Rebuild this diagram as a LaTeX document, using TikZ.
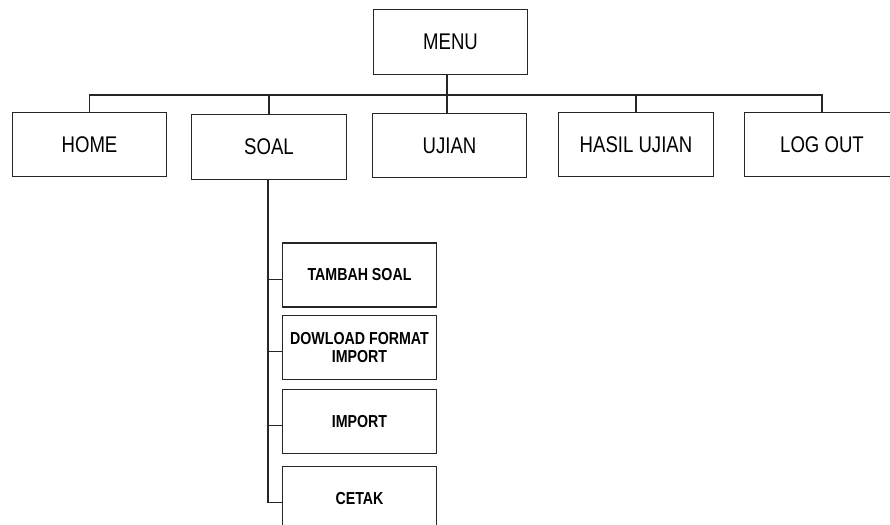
\documentclass[tikz,border=0pt]{standalone}
\usepackage{fontspec}
\setmainfont{Liberation Sans}[FakeStretch=0.82]
\usepackage{tikz}
\usetikzlibrary{positioning,calc}

\tikzset{
  menubox/.style={draw=black!85,line width=0.8pt,minimum width=116pt,minimum height=48.5pt,
    inner sep=2pt,font=\fontsize{17}{20}\selectfont},
  subbox/.style={draw=black!85,line width=0.8pt,minimum width=116pt,minimum height=48pt,
    inner sep=2pt,align=center,font=\fontsize{13}{13.5}\selectfont\bfseries},
  link/.style={draw=black!85,line width=0.8pt}
}

\begin{document}
\begin{tikzpicture}[x=0.75pt,y=-0.75pt]
      \useasboundingbox (0,0) rectangle (890,525);
      \clip (0,0) rectangle (890,525);

      % main menu
      \node[menubox] at (450.5,42)(menu){MENU};
      \node[menubox] at (89.5,144.5)(home){HOME};
      \node[menubox] at (269,147)(soal){SOAL};
      \node[menubox] at (449.5,145.5)(ujian){UJIAN};
      \node[menubox] at (636,144.5)(hasil){HASIL UJIAN};
      \node[menubox] at (822,144.5)(logout){LOG OUT};

      % sub menu soal
      \node[subbox] at (359.5,275)(tambah){TAMBAH SOAL};
      \node[subbox,below=5.25pt of tambah](dowload){DOWLOAD FORMAT\\IMPORT};
      \node[subbox,below=6.75pt of dowload](import){IMPORT};
      \node[subbox,below=9pt of import](cetak){CETAK};

      \coordinate (bus) at (447,95);
      \draw[link] (menu.south -| bus) -- (bus);
      \draw[link] (home.north) |- (bus) -| (logout.north);
      \draw[link] (bus -| soal.north) -- (soal.north);
      \draw[link] (bus) -- (ujian.north -| bus);
      \draw[link] (bus -| hasil.north) -- (hasil.north);

      % branch points on the left of each sub box
      \coordinate (t1) at ([yshift=-3.5pt]tambah.west);
      \coordinate (t2) at ([yshift=-3.5pt]dowload.west);
      \coordinate (t3) at ([yshift=-3pt]import.west);
      \coordinate (t4) at ([yshift=-3pt]cetak.west);
      \coordinate (spine) at (268,0);
      \draw[link] (soal.south -| spine) -- (spine |- t4) -- (t4);
      \draw[link] (spine |- t1) -- (t1);
      \draw[link] (spine |- t2) -- (t2);
      \draw[link] (spine |- t3) -- (t3);
\end{tikzpicture}
\end{document}
